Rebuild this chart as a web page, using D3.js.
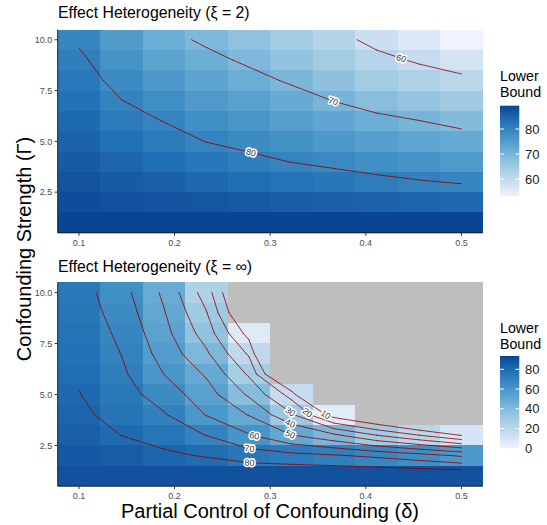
<!DOCTYPE html>
<html>
<head>
<meta charset="utf-8">
<script src="https://cdn.jsdelivr.net/npm/d3@7"></script>
<style>
  body { margin: 0; background: #ffffff; }
  text { font-family: "Liberation Sans", Arial, sans-serif; }
</style>
</head>
<body>
<svg id="chart" width="547" height="525"></svg>
<script>
// ---------------- data ----------------
const deltaValues = [0.1, 0.1444, 0.1889, 0.2333, 0.2778, 0.3222, 0.3667, 0.4111, 0.4556, 0.5];
const gammaValues = [1, 2, 3, 4, 5, 6, 7, 8, 9, 10];

// lower bound, one row per Γ (1..10), one column per δ
const lowerBoundXi2 = [
  [89.3, 89.3, 89.3, 89.3, 89.3, 89.3, 89.3, 89.3, 89.3, 89.3],
  [88.2, 87.8, 87.3, 86.9, 86.4, 86.0, 85.7, 85.3, 84.9, 84.5],
  [87.2, 86.3, 85.4, 84.5, 83.6, 82.9, 82.2, 81.3, 80.4, 79.6],
  [86.2, 84.8, 83.5, 82.2, 81.1, 79.9, 78.9, 77.7, 76.6, 75.6],
  [85.2, 83.3, 81.7, 79.9, 78.8, 77.2, 75.8, 74.4, 73.2, 72.2],
  [84.2, 81.6, 79.9, 77.8, 76.5, 74.6, 72.9, 71.3, 70.1, 68.6],
  [83.1, 80.1, 77.9, 75.6, 74.2, 72.0, 69.9, 68.0, 66.6, 65.2],
  [82.0, 78.5, 75.7, 73.5, 71.5, 69.4, 67.2, 64.7, 62.9, 61.2],
  [80.9, 76.9, 73.6, 71.3, 69.2, 66.9, 64.5, 61.6, 59.3, 57.4],
  [79.4, 75.3, 71.5, 69.2, 67.0, 64.5, 61.9, 58.4, 56.0, 53.3]
];
const lowerBoundXiInf = [
  [89.3, 89.3, 89.3, 89.3, 89.3, 89.3, 89.3, 89.3, 89.3, 89.3],
  [86.5, 84.7, 81.9, 79.2, 75.0, 73.0, 71.0, 68.0, 64.0, 58.8],
  [84.1, 79.9, 76.0, 69.8, 60.7, 50.3, 42.0, 30.0, 20.0, 9.5],
  [82.0, 76.6, 70.9, 59.6, 49.5, 31.7, 5.0, -7.0, -20, -40],
  [80.3, 74.0, 65.5, 54.3, 38.5, 15.9, -50, -45, -60, -80],
  [79.0, 71.8, 59.9, 48.8, 28.5, -20, -90, -85, -100, -120],
  [77.8, 69.8, 56.2, 41.6, 18.5, -50, -130, -125, -140, -160],
  [76.6, 68.0, 53.2, 35.5, 6.0, -80, -170, -165, -180, -200],
  [75.5, 65.7, 50.7, 30.6, -8.0, -110, -210, -205, -220, -240],
  [74.4, 63.5, 48.2, 25.1, -14.8, -140, -250, -245, -260, -280]
];

const contourLevelsXi2 = [60, 70, 80];
const contourLevelsXiInf = [10, 20, 30, 40, 50, 60, 70, 80];
// [level, δ where the label sits]
const labelAnchorsXi2 = [[80, 0.28], [70, 0.366], [60, 0.437]];
const labelAnchorsXiInf = [[80, 0.2784], [70, 0.2784], [60, 0.2836], [50, 0.321], [40, 0.321], [30, 0.321], [20, 0.339], [10, 0.358]];

const xTicks = [0.1, 0.2, 0.3, 0.4, 0.5];
const yTicks = [2.5, 5.0, 7.5, 10.0];
const legendBreaksXi2 = [60, 70, 80];
const legendBreaksXiInf = [0, 20, 40, 60, 80];
const colourLimitsXiInf = [0, 93.5];

const titleXi2 = "Effect Heterogeneity (\u03BE = 2)";
const titleXiInf = "Effect Heterogeneity (\u03BE = \u221E)";
const xTitle = "Partial Control of Confounding (\u03B4)";
const yTitle = "Confounding Strength (\u0393)";
const legendTitle = ["Lower", "Bound"];

const bluesPalette = ["#EFF3FF", "#C6DBEF", "#9ECAE1", "#6BAED6", "#4292C6", "#2171B5", "#084594"];
const naColour = "#BEBEBE";
const contourColour = "#8B0000";

// ---------------- drawing ----------------
const svg = d3.select("#chart");
const x = d3.scaleLinear().domain([0.0778, 0.5222]).range([57.7, 482.7]);

function makeColour(lo, hi) {
  const n = bluesPalette.length;
  return d3.scaleLinear()
    .domain(d3.range(n).map(i => lo + i * (hi - lo) / (n - 1)))
    .range(bluesPalette)
    .interpolate(d3.interpolateLab)
    .clamp(true);
}

function isoSegments(grid, level) {
  const segs = [];
  const ny = grid.length, nx = grid[0].length;
  for (let j = 0; j < ny - 1; j++) {
    for (let i = 0; i < nx - 1; i++) {
      const c = [[i, j], [i + 1, j], [i + 1, j + 1], [i, j + 1]];
      const v = c.map(([a, b]) => grid[b][a]);
      const pts = [];
      for (let k = 0; k < 4; k++) {
        const k2 = (k + 1) % 4;
        const va = v[k], vb = v[k2];
        if ((va >= level) !== (vb >= level)) {
          const t = (level - va) / (vb - va);
          const xa = deltaValues[c[k][0]], ya = gammaValues[c[k][1]];
          const xb = deltaValues[c[k2][0]], yb = gammaValues[c[k2][1]];
          pts.push([xa + t * (xb - xa), ya + t * (yb - ya)]);
        }
      }
      if (pts.length === 2) segs.push([pts[0], pts[1]]);
      else if (pts.length === 4) {
        const center = (v[0] + v[1] + v[2] + v[3]) / 4;
        if ((center >= level) === (v[0] >= level)) {
          segs.push([pts[0], pts[1]]); segs.push([pts[2], pts[3]]);
        } else {
          segs.push([pts[0], pts[3]]); segs.push([pts[1], pts[2]]);
        }
      }
    }
  }
  return segs;
}

function drawPanel(cfg) {
  const y = d3.scaleLinear().domain([0.5, 10.5]).range([cfg.yBottom, cfg.yTop]);
  const flat = cfg.values.flat();
  const limits = cfg.limits || d3.extent(flat);
  const colour = makeColour(limits[0], limits[1]);
  const g = svg.append("g");

  // tiles
  const edges = deltaValues.map((d, i) => {
    const prev = i > 0 ? (d + deltaValues[i - 1]) / 2 : d - (deltaValues[1] - deltaValues[0]) / 2;
    const next = i < deltaValues.length - 1 ? (d + deltaValues[i + 1]) / 2 : d + (d - deltaValues[i - 1]) / 2;
    return [prev, next];
  });
  const cells = [];
  cfg.values.forEach((row, j) => row.forEach((v, i) => cells.push({ i, j, v })));
  g.append("g").selectAll("rect").data(cells).join("rect")
    .attr("x", c => x(edges[c.i][0]))
    .attr("width", c => x(edges[c.i][1]) - x(edges[c.i][0]))
    .attr("y", c => y(gammaValues[c.j] + 0.5))
    .attr("height", c => y(gammaValues[c.j] - 0.5) - y(gammaValues[c.j] + 0.5))
    .attr("fill", c => (c.v < limits[0] || c.v > limits[1]) ? naColour : colour(c.v))
    .attr("shape-rendering", "crispEdges");

  // contours
  const segsByLevel = {};
  cfg.levels.forEach(level => {
    const segs = isoSegments(cfg.values, level);
    segsByLevel[level] = segs;
    const p = d3.path();
    segs.forEach(s => { p.moveTo(x(s[0][0]), y(s[0][1])); p.lineTo(x(s[1][0]), y(s[1][1])); });
    g.append("path").attr("d", p.toString())
      .attr("fill", "none").attr("stroke", contourColour)
      .attr("stroke-width", 0.8).attr("stroke-linecap", "round");
  });

  // contour labels
  cfg.labels.forEach(([level, d]) => {
    const segs = segsByLevel[level] || [];
    const s = segs.find(s => Math.min(s[0][0], s[1][0]) <= d && Math.max(s[0][0], s[1][0]) >= d);
    if (!s) return;
    const t = (s[1][0] === s[0][0]) ? 0 : (d - s[0][0]) / (s[1][0] - s[0][0]);
    const gy = s[0][1] + t * (s[1][1] - s[0][1]);
    const px = x(d), py = y(gy);
    let ang = Math.atan2(y(s[1][1]) - y(s[0][1]), x(s[1][0]) - x(s[0][0])) * 180 / Math.PI;
    if (ang > 90) ang -= 180;
    if (ang < -90) ang += 180;
    g.append("text")
      .attr("transform", `translate(${px},${py}) rotate(${ang})`)
      .attr("text-anchor", "middle").attr("dominant-baseline", "central")
      .attr("font-size", 8.8).attr("fill", "#333333")
      .attr("stroke", "#ffffff").attr("stroke-width", 3.2)
      .attr("stroke-linejoin", "round").attr("paint-order", "stroke")
      .text(level);
  });

  // axes
  const [xl, xr] = x.range();
  g.append("line").attr("x1", xl).attr("x2", xl).attr("y1", cfg.yTop).attr("y2", cfg.yBottom)
    .attr("stroke", "#1a1a1a").attr("stroke-width", 1);
  g.append("line").attr("x1", xl).attr("x2", xr).attr("y1", cfg.yBottom).attr("y2", cfg.yBottom)
    .attr("stroke", "#1a1a1a").attr("stroke-width", 1);
  xTicks.forEach(tk => {
    g.append("line").attr("x1", x(tk)).attr("x2", x(tk)).attr("y1", cfg.yBottom).attr("y2", cfg.yBottom + 3)
      .attr("stroke", "#333333").attr("stroke-width", 1);
    g.append("text").attr("x", x(tk)).attr("y", cfg.yBottom + 12.8)
      .attr("text-anchor", "middle").attr("font-size", 9).attr("fill", "#4D4D4D")
      .text(d3.format(".1f")(tk));
  });
  yTicks.forEach(tk => {
    g.append("line").attr("x1", xl - 3).attr("x2", xl).attr("y1", y(tk)).attr("y2", y(tk))
      .attr("stroke", "#333333").attr("stroke-width", 1);
    g.append("text").attr("x", xl - 5.5).attr("y", y(tk)).attr("dy", "0.35em")
      .attr("text-anchor", "end").attr("font-size", 9).attr("fill", "#4D4D4D")
      .text(d3.format(".1f")(tk));
  });

  // title
  g.append("text").attr("x", 58).attr("y", cfg.titleY)
    .attr("font-size", 15.8).attr("fill", "#000").text(cfg.title);

  // legend
  const lg = svg.append("g");
  lg.selectAll("text.lt").data(legendTitle).join("text").attr("class", "lt")
    .attr("x", 500).attr("y", (d, i) => cfg.legendTitleY + i * 16)
    .attr("font-size", 14.2).attr("fill", "#000").text(d => d);
  const ly = d3.scaleLinear().domain(limits).range([cfg.legendBottom, cfg.legendTop]);
  const gid = "grad" + cfg.id;
  const grad = svg.append("defs").append("linearGradient").attr("id", gid)
    .attr("x1", 0).attr("y1", 1).attr("x2", 0).attr("y2", 0);
  d3.range(0, 1.0001, 0.05).forEach(t => {
    grad.append("stop").attr("offset", t).attr("stop-color", colour(limits[0] + t * (limits[1] - limits[0])));
  });
  const bx = 500, bw = 19.3;
  lg.append("rect").attr("x", bx).attr("y", cfg.legendTop).attr("width", bw)
    .attr("height", cfg.legendBottom - cfg.legendTop).attr("fill", `url(#${gid})`);
  cfg.legendBreaks.forEach(b => {
    const yy = ly(b);
    lg.append("line").attr("x1", bx).attr("x2", bx + 3.9).attr("y1", yy).attr("y2", yy)
      .attr("stroke", "#ffffff").attr("stroke-width", 1);
    lg.append("line").attr("x1", bx + bw - 3.9).attr("x2", bx + bw).attr("y1", yy).attr("y2", yy)
      .attr("stroke", "#ffffff").attr("stroke-width", 1);
    lg.append("text").attr("x", 525).attr("y", yy).attr("dy", "0.36em")
      .attr("font-size", 13).attr("fill", "#1a1a1a").text(b);
  });
}

drawPanel({
  id: "a", values: lowerBoundXi2, levels: contourLevelsXi2, labels: labelAnchorsXi2,
  yTop: 29.6, yBottom: 232.8, title: titleXi2, titleY: 17.8,
  legendBreaks: legendBreaksXi2, legendTop: 105.7, legendBottom: 196, legendTitleY: 80.5
});
drawPanel({
  id: "b", values: lowerBoundXiInf, levels: contourLevelsXiInf, labels: labelAnchorsXiInf,
  yTop: 282.3, yBottom: 486.2, title: titleXiInf, titleY: 271.6, limits: colourLimitsXiInf,
  legendBreaks: legendBreaksXiInf, legendTop: 356, legendBottom: 448.3, legendTitleY: 332.5
});

// axis titles
svg.append("text").attr("x", 270).attr("y", 518).attr("text-anchor", "middle")
  .attr("font-size", 20).attr("fill", "#000").text(xTitle);
svg.append("text").attr("transform", "translate(31,249) rotate(-90)").attr("text-anchor", "middle")
  .attr("font-size", 20).attr("fill", "#000").text(yTitle);
</script>
</body>
</html>
